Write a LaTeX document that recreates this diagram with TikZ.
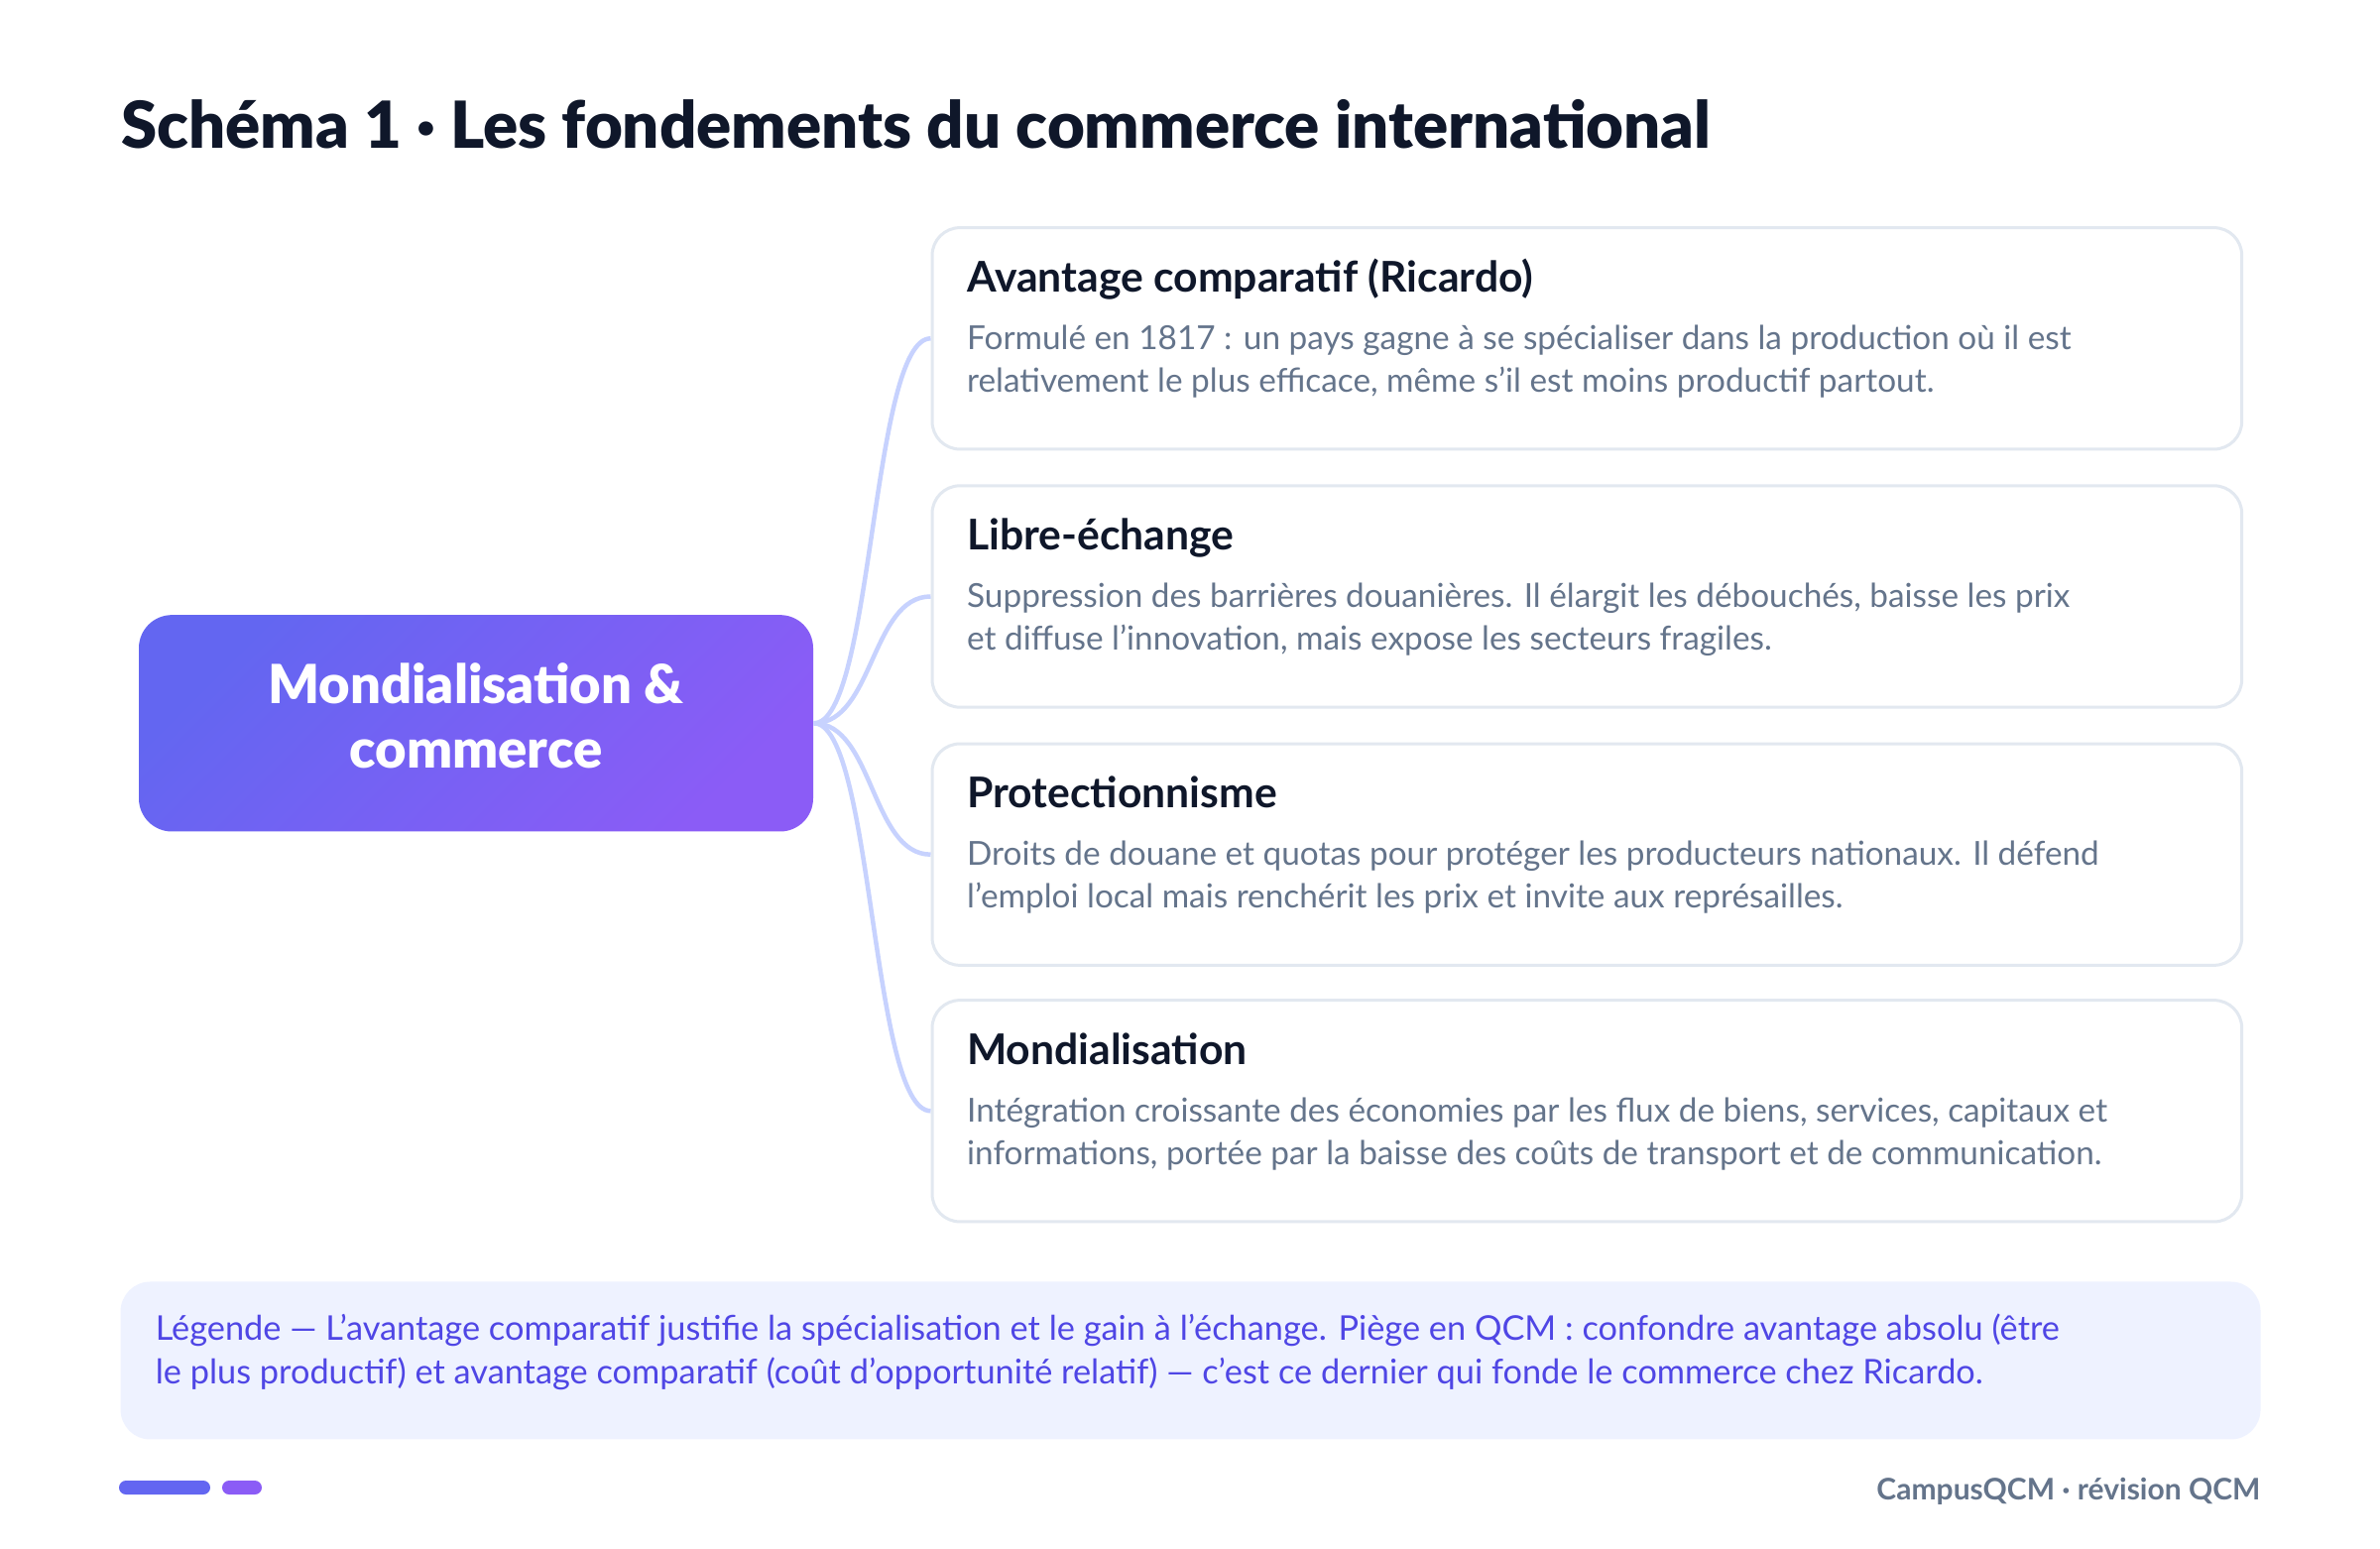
\documentclass[tikz,border=0pt]{standalone}
\usepackage{fontspec}
\setmainfont{Lato}
\newfontfamily\heavyfont{Lato Black}
\usetikzlibrary{positioning}
\definecolor{ink}{HTML}{0F172A}
\definecolor{slate}{HTML}{64748B}
\definecolor{indigo}{HTML}{6366F1}
\definecolor{violet}{HTML}{8B5CF6}
\definecolor{cardline}{HTML}{E2E8F0}
\definecolor{branchcol}{HTML}{C7D2FE}
\definecolor{legendbg}{HTML}{EEF2FF}
\definecolor{legendink}{HTML}{4F46E5}
\begin{document}
\begin{tikzpicture}[x=0.3pt, y=-0.3pt,
hub/.style={rectangle, rounded corners=10pt, minimum width=204pt, minimum height=65.5pt, inner sep=0pt, left color=indigo, right color=violet, shading angle=45},
hubtext/.style={inner sep=0pt, text=white, align=center, font=\heavyfont\fontsize{16.3}{19.7}\selectfont},
card/.style={rectangle, rounded corners=8.4pt, draw=cardline, line width=0.9pt, fill=white, minimum width=396.2pt, minimum height=67pt, anchor=north west, inner sep=0pt},
cardtitle/.style={anchor=base west, inner sep=0pt, text=ink, font=\bfseries\fontsize{12.8}{14}\selectfont},
cardtext/.style={anchor=base west, inner sep=0pt, text=slate, align=left, font=\fontsize{10}{12.9}\selectfont},
branch/.style={draw=branchcol, line width=1.35pt},
legende/.style={rectangle, rounded corners=9pt, fill=legendbg, minimum width=647.4pt, minimum height=47.7pt, anchor=north west, inner sep=0pt},
]
\useasboundingbox[fill=white] (0,0) rectangle (2400,1561);
% titre
\node[anchor=base west, inner sep=0pt, text=ink, font=\heavyfont\fontsize{19.6}{24}\selectfont] (titre) at (121.5,149) {Schéma 1 · Les fondements du commerce international};
% noeud central
\node[hub] (hub) at (480,729.3) {};
\node[hubtext] (hub-t) at ([yshift=2.3pt]hub.center) {Mondialisation \&\\commerce};
% cartes
\node[card] (ricardo) at (938.5,228.1) {};
\node[card] (libre) at (938.5,488.3) {};
\node[card] (protec) at (938.5,748.5) {};
\node[card] (mondial) at (938.5,1007.1) {};
\node[cardtitle] (ricardo-t) at ([shift={(36,66)}]ricardo.north west) {Avantage comparatif (Ricardo)};
\node[cardtext] (ricardo-d) at ([shift={(36,167)}]ricardo.north west) {Formulé en 1817 : un pays gagne à se spécialiser dans la production où il est\\relativement le plus efficace, même s'il est moins productif partout.};
\node[cardtitle] (libre-t) at ([shift={(36,66)}]libre.north west) {Libre-échange};
\node[cardtext] (libre-d) at ([shift={(36,167)}]libre.north west) {Suppression des barrières douanières. Il élargit les débouchés, baisse les prix\\et diffuse l'innovation, mais expose les secteurs fragiles.};
\node[cardtitle] (protec-t) at ([shift={(36,66)}]protec.north west) {Protectionnisme};
\node[cardtext] (protec-d) at ([shift={(36,167)}]protec.north west) {Droits de douane et quotas pour protéger les producteurs nationaux. Il défend\\l'emploi local mais renchérit les prix et invite aux représailles.};
\node[cardtitle] (mondial-t) at ([shift={(36,66)}]mondial.north west) {Mondialisation};
\node[cardtext] (mondial-d) at ([shift={(36,167)}]mondial.north west) {Intégration croissante des économies par les flux de biens, services, capitaux et\\informations, portée par la baisse des coûts de transport et de communication.};
% branches
\draw[branch] (hub.east) .. controls +(60,0) and +(-60,0) .. (ricardo.west);
\draw[branch] (hub.east) .. controls +(60,0) and +(-60,0) .. (libre.west);
\draw[branch] (hub.east) .. controls +(60,0) and +(-60,0) .. (protec.west);
\draw[branch] (hub.east) .. controls +(60,0) and +(-60,0) .. (mondial.west);
% legende
\node[legende] (legende) at (120.9,1291.8) {};
\node[anchor=base west, inner sep=0pt, text=legendink, align=left, font=\fontsize{10.3}{13.3}\selectfont] (legende-t) at ([shift={(35.2,104)}]legende.north west) {Légende — L'avantage comparatif justifie la spécialisation et le gain à l'échange. Piège en QCM : confondre avantage absolu (être\\le plus productif) et avantage comparatif (coût d'opportunité relatif) — c'est ce dernier qui fonde le commerce chez Ricardo.};
% pied de page
\fill[indigo, rounded corners=2.1pt] (120,1493) rectangle (212,1507);
\fill[violet, rounded corners=2.1pt] (224,1493) rectangle (264,1507);
\node[anchor=base east, inner sep=0pt, text=slate, font=\bfseries\fontsize{9}{11}\selectfont] (pied) at (2280,1512) {CampusQCM · révision QCM};
\end{tikzpicture}
\end{document}
